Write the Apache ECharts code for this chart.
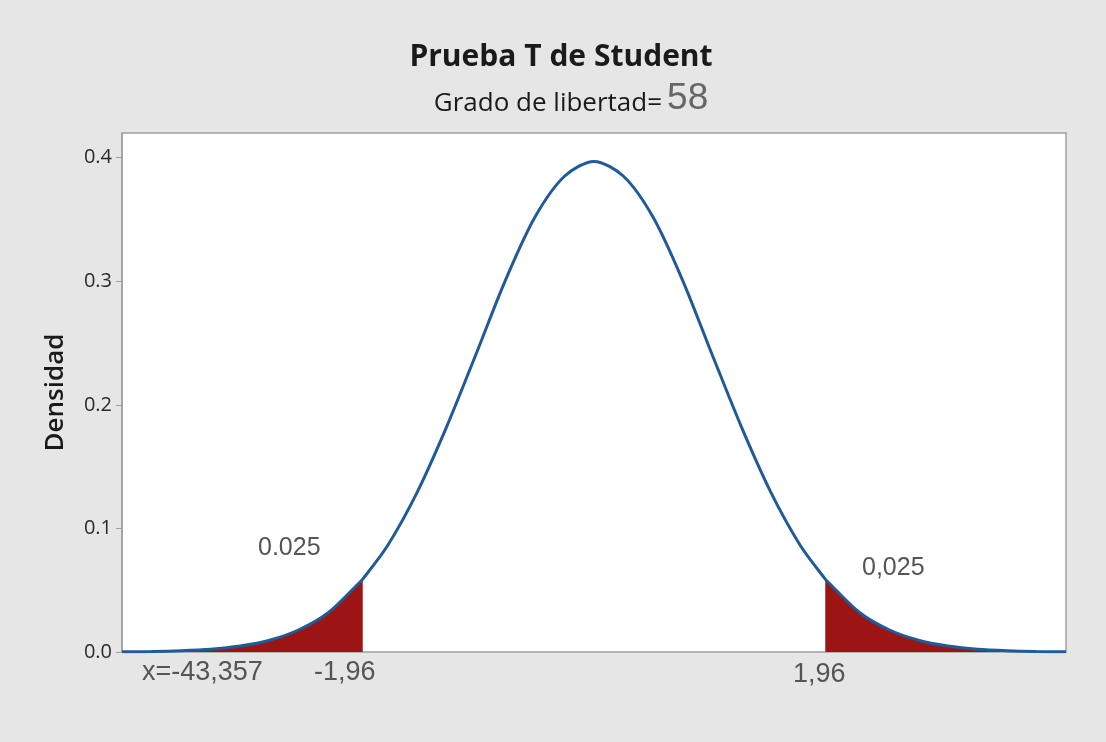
<!DOCTYPE html>
<html>
<head>
<meta charset="utf-8">
<script src="https://cdn.jsdelivr.net/npm/echarts@6/dist/echarts.min.js"></script>
<style>
  html, body { margin: 0; padding: 0; background: #e6e6e6; }
  #chart { width: 1106px; height: 742px; }
</style>
</head>
<body>
<div id="chart"></div>
<script>
  // valores (t de Student, 58 g.l.)
  var xVals = [-4, -3.75, -3.5, -3.25, -3, -2.75, -2.5, -2.25, -2, -1.96, -1.75, -1.5, -1.25, -1, -0.75, -0.5, -0.25, 0,
               0.25, 0.5, 0.75, 1, 1.25, 1.5, 1.75, 1.96, 2, 2.25, 2.5, 2.75, 3, 3.25, 3.5, 3.75, 4];
  var density = [0.0002, 0.0004, 0.0010, 0.0022, 0.0048, 0.0095, 0.018, 0.032, 0.055, 0.059, 0.086, 0.129, 0.182, 0.241, 0.301, 0.352, 0.385, 0.397,
                 0.385, 0.352, 0.301, 0.241, 0.182, 0.129, 0.086, 0.059, 0.055, 0.032, 0.018, 0.0095, 0.0048, 0.0022, 0.0010, 0.0004, 0.0002];
  var critical = 1.96;
  var yTicks = [0, 0.1, 0.2, 0.3, 0.4];

  var curve = xVals.map(function (x, i) { return [x, density[i]]; });
  var leftTail = curve.filter(function (p) { return p[0] <= -critical; });
  var rightTail = curve.filter(function (p) { return p[0] >= critical; });

  var myChart = echarts.init(document.getElementById("chart"));
  var labelFont = "25px Liberation Sans";
  var axisFont = "27px Liberation Sans";
  var option = {
    backgroundColor: "#e6e6e6",
    title: [
      {
        text: "Prueba T de Student",
        left: 556, textAlign: "center", top: 37,
        textStyle: { fontFamily: "Open Sans", fontSize: 30, fontWeight: "bold", color: "#1a1a1a" }
      },
      {
        text: "{a|Grado de libertad=} {b|58}",
        left: 566, textAlign: "center", top: 72,
        textStyle: {
          fontWeight: "normal",
          rich: {
            a: { fontFamily: "Open Sans", fontSize: 26, fontWeight: "normal", color: "#1a1a1a", verticalAlign: "bottom", lineHeight: 40 },
            b: { fontFamily: "Liberation Sans", fontSize: 37, fontWeight: "normal", color: "#666", verticalAlign: "bottom", lineHeight: 40 }
          }
        }
      }
    ],
    grid: {
      left: 122, right: 40, top: 133, bottom: 90,
      show: true, backgroundColor: "#fff", borderColor: "#a0a0a0", borderWidth: 1.5
    },
    xAxis: {
      type: "value", min: -4, max: 4,
      axisLine: { show: false }, axisTick: { show: false },
      axisLabel: { show: false }, splitLine: { show: false }
    },
    yAxis: {
      type: "value", min: 0, max: 0.42,
      name: "Densidad", nameLocation: "middle", nameGap: 53,
      nameTextStyle: { fontFamily: "Open Sans", fontSize: 26, fontWeight: 600, color: "#1a1a1a" },
      axisLine: { show: true, onZero: false, lineStyle: { color: "#a0a0a0", width: 1.5 } },
      axisTick: { show: true, length: 6, customValues: yTicks, lineStyle: { color: "#a0a0a0" } },
      axisLabel: {
        customValues: yTicks, margin: 10,
        fontFamily: "Open Sans", fontSize: 20, color: "#2a2a2a",
        formatter: function (v) { return v.toFixed(1); }
      },
      splitLine: { show: false }
    },
    series: [
      {
        type: "line", data: leftTail, smooth: 0.3, symbol: "none",
        lineStyle: { width: 0 }, areaStyle: { color: "#9c1414", opacity: 1 }, z: 2
      },
      {
        type: "line", data: rightTail, smooth: 0.3, symbol: "none",
        lineStyle: { width: 0 }, areaStyle: { color: "#9c1414", opacity: 1 }, z: 2
      },
      {
        type: "line", data: curve, smooth: 0.3, symbol: "none",
        lineStyle: { color: "#1f5b98", width: 3 }, z: 3
      }
    ],
    graphic: [
      { type: "text", x: 258, y: 548, style: { text: "0.025", font: labelFont, fill: "#555", verticalAlign: "middle" } },
      { type: "text", x: 862, y: 568, style: { text: "0,025", font: labelFont, fill: "#555", verticalAlign: "middle" } },
      { type: "text", x: 142, y: 673, style: { text: "x=-43,357", font: axisFont, fill: "#555", verticalAlign: "middle" } },
      { type: "text", x: 314, y: 673, style: { text: "-1,96", font: axisFont, fill: "#555", verticalAlign: "middle" } },
      { type: "text", x: 793, y: 675, style: { text: "1,96", font: axisFont, fill: "#555", verticalAlign: "middle" } }
    ]
  };
  myChart.setOption(option);
</script>
</body>
</html>
